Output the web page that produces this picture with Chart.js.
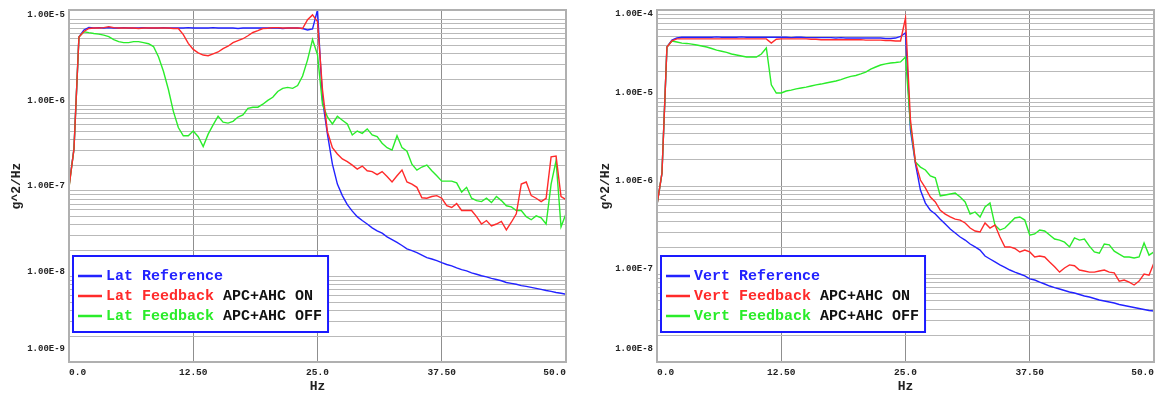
<!DOCTYPE html>
<html><head><meta charset="utf-8">
<script src="https://cdn.jsdelivr.net/npm/chart.js@4/dist/chart.umd.min.js"></script>
<style>html,body{margin:0;padding:0;background:#fff;}#wrap{display:flex;width:1158px;height:396px;}canvas{display:block;}</style>
</head><body><div id="wrap"><canvas id="lat" width="579" height="396"></canvas><canvas id="vert" width="579" height="396"></canvas></div>
<script>
const freq = [0,0.5,1,1.5,2,2.5,3,3.5,4,4.5,5,5.5,6,6.5,7,7.5,8,8.5,9,9.5,10,10.5,11,11.5,12,12.5,13,13.5,14,14.5,15,15.5,16,16.5,17,17.5,18,18.5,19,19.5,20,20.5,21,21.5,22,22.5,23,23.5,24,24.5,25,25.5,26,26.5,27,27.5,28,28.5,29,29.5,30,30.5,31,31.5,32,32.5,33,33.5,34,34.5,35,35.5,36,36.5,37,37.5,38,38.5,39,39.5,40,40.5,41,41.5,42,42.5,43,43.5,44,44.5,45,45.5,46,46.5,47,47.5,48,48.5,49,49.5,50];

const latRef = [1.15e-7,3.1e-7,6.3e-6,7.6e-6,8.1e-6,8.0e-6,8.1e-6,8.0e-6,8.1e-6,8.0e-6,
8.0e-6,8.1e-6,8.0e-6,8.0e-6,8.0e-6,8.1e-6,8.0e-6,8.0e-6,8.0e-6,8.1e-6,
8.0e-6,8.0e-6,8.0e-6,8.0e-6,8.1e-6,8.0e-6,8.0e-6,8.0e-6,8.0e-6,8.1e-6,
8.0e-6,8.0e-6,8.0e-6,8.0e-6,7.9e-6,8.0e-6,8.0e-6,8.0e-6,8.0e-6,8.0e-6,
8.0e-6,8.0e-6,8.0e-6,7.9e-6,8.0e-6,8.0e-6,8.0e-6,7.9e-6,7.6e-6,7.8e-6,
1.3e-5,1.17e-6,4.6e-7,2.05e-7,1.2e-7,8.8e-8,6.9e-8,5.8e-8,5.0e-8,4.5e-8,
4.1e-8,3.7e-8,3.4e-8,3.2e-8,2.9e-8,2.7e-8,2.5e-8,2.3e-8,2.1e-8,2.0e-8,
1.9e-8,1.78e-8,1.66e-8,1.6e-8,1.53e-8,1.45e-8,1.38e-8,1.33e-8,1.26e-8,1.2e-8,
1.16e-8,1.1e-8,1.06e-8,1.02e-8,9.9e-9,9.5e-9,9.2e-9,8.9e-9,8.5e-9,8.3e-9,
8.1e-9,7.8e-9,7.65e-9,7.45e-9,7.25e-9,7.06e-9,6.85e-9,6.7e-9,6.5e-9,6.35e-9,
6.2e-9];

const latFbOn = [1.1e-7,3.1e-7,6.3e-6,7.3e-6,7.9e-6,8.0e-6,8.0e-6,8.1e-6,8.3e-6,8.1e-6,
8.0e-6,8.0e-6,8.0e-6,8.0e-6,7.9e-6,8.0e-6,8.0e-6,8.0e-6,8.0e-6,8.0e-6,
8.0e-6,7.9e-6,7.9e-6,6.7e-6,5.3e-6,4.5e-6,4.1e-6,3.87e-6,3.8e-6,4.0e-6,
4.2e-6,4.6e-6,4.9e-6,5.4e-6,5.7e-6,6.0e-6,6.5e-6,7.1e-6,7.45e-6,7.9e-6,
7.95e-6,8.1e-6,8.1e-6,8.0e-6,8.0e-6,8.0e-6,8.0e-6,7.9e-6,1.0e-5,1.14e-5,
9.5e-6,1.53e-6,4.9e-7,3.2e-7,2.7e-7,2.36e-7,2.2e-7,2.0e-7,1.8e-7,1.95e-7,
1.72e-7,1.68e-7,1.55e-7,1.68e-7,1.47e-7,1.27e-7,1.5e-7,1.75e-7,1.27e-7,1.2e-7,
1.1e-7,8.3e-8,8.2e-8,8.6e-8,8.8e-8,8.2e-8,6.7e-8,6.4e-8,7.1e-8,5.9e-8,
5.9e-8,5.9e-8,5.0e-8,4.1e-8,4.5e-8,3.9e-8,4.1e-8,4.4e-8,3.5e-8,4.3e-8,
5.4e-8,1.2e-7,1.27e-7,8.8e-8,8.2e-8,7.5e-8,8.2e-8,2.5e-7,2.55e-7,8.6e-8,
7.9e-8];

const latFbOff = [1.1e-7,3.1e-7,6.3e-6,7.25e-6,7.06e-6,6.9e-6,6.8e-6,6.6e-6,6.34e-6,5.86e-6,
5.55e-6,5.4e-6,5.4e-6,5.55e-6,5.55e-6,5.4e-6,5.25e-6,4.86e-6,3.7e-6,2.5e-6,
1.53e-6,8.5e-7,5.5e-7,4.4e-7,4.4e-7,5.0e-7,4.3e-7,3.3e-7,4.6e-7,5.9e-7,
7.45e-7,6.35e-7,6.2e-7,6.5e-7,7.3e-7,7.7e-7,9.2e-7,9.5e-7,9.5e-7,1.03e-6,
1.14e-6,1.24e-6,1.45e-6,1.58e-6,1.62e-6,1.58e-6,1.7e-6,2.2e-6,3.4e-6,5.86e-6,
3.9e-6,1.03e-6,7.3e-7,6.05e-7,7.45e-7,6.7e-7,6.05e-7,4.5e-7,5.0e-7,4.7e-7,
5.3e-7,4.5e-7,4.3e-7,3.6e-7,3.2e-7,3.0e-7,4.4e-7,3.2e-7,2.9e-7,2.05e-7,
1.75e-7,1.9e-7,2.0e-7,1.72e-7,1.5e-7,1.3e-7,1.3e-7,1.3e-7,1.24e-7,9.7e-8,
1.1e-7,8.2e-8,7.7e-8,7.5e-8,8.2e-8,7.3e-8,8.6e-8,7.7e-8,6.7e-8,6.5e-8,
5.9e-8,5.9e-8,5.0e-8,4.6e-8,5.1e-8,4.85e-8,4.1e-8,1.2e-7,2.25e-7,3.8e-8,
5.4e-8];

const vertRef = [6.1e-7,1.4e-6,3.8e-5,4.56e-5,4.8e-5,4.9e-5,4.9e-5,4.9e-5,4.9e-5,4.9e-5,
4.9e-5,4.9e-5,4.95e-5,4.9e-5,4.9e-5,4.9e-5,4.9e-5,4.95e-5,4.9e-5,4.9e-5,
4.9e-5,4.9e-5,4.9e-5,4.9e-5,4.9e-5,4.9e-5,4.9e-5,4.85e-5,4.9e-5,4.9e-5,
4.85e-5,4.85e-5,4.85e-5,4.85e-5,4.85e-5,4.85e-5,4.8e-5,4.85e-5,4.8e-5,4.8e-5,
4.8e-5,4.8e-5,4.8e-5,4.8e-5,4.8e-5,4.8e-5,4.75e-5,4.75e-5,4.8e-5,5.0e-5,
5.5e-5,4.3e-6,1.8e-6,9.0e-7,6.4e-7,5.3e-7,4.8e-7,4.2e-7,3.7e-7,3.24e-7,
2.92e-7,2.63e-7,2.43e-7,2.19e-7,2.03e-7,1.87e-7,1.6e-7,1.48e-7,1.37e-7,1.27e-7,
1.19e-7,1.11e-7,1.05e-7,1.0e-7,9.5e-8,8.8e-8,8.55e-8,8.1e-8,7.7e-8,7.3e-8,
7.0e-8,6.76e-8,6.5e-8,6.24e-8,6.08e-8,5.85e-8,5.62e-8,5.48e-8,5.27e-8,5.07e-8,
4.93e-8,4.8e-8,4.68e-8,4.5e-8,4.38e-8,4.27e-8,4.16e-8,4.05e-8,3.95e-8,3.85e-8,
3.8e-8];

const vertFbOn = [6.1e-7,1.4e-6,3.8e-5,4.45e-5,4.7e-5,4.7e-5,4.7e-5,4.7e-5,4.7e-5,4.7e-5,
4.7e-5,4.7e-5,4.7e-5,4.7e-5,4.7e-5,4.7e-5,4.7e-5,4.7e-5,4.7e-5,4.7e-5,
4.7e-5,4.7e-5,4.7e-5,4.2e-5,4.65e-5,4.7e-5,4.7e-5,4.7e-5,4.7e-5,4.7e-5,
4.7e-5,4.65e-5,4.65e-5,4.6e-5,4.6e-5,4.6e-5,4.6e-5,4.6e-5,4.6e-5,4.6e-5,
4.6e-5,4.6e-5,4.55e-5,4.55e-5,4.55e-5,4.55e-5,4.5e-5,4.5e-5,4.45e-5,4.45e-5,
8.1e-5,5.6e-6,1.87e-6,1.17e-6,9.5e-7,7.5e-7,6.6e-7,5.3e-7,4.8e-7,4.45e-7,
4.2e-7,4.1e-7,3.8e-7,3.33e-7,3.08e-7,3.0e-7,3.8e-7,3.33e-7,3.6e-7,2.63e-7,
2.03e-7,2.03e-7,1.95e-7,1.78e-7,1.87e-7,1.78e-7,1.56e-7,1.6e-7,1.56e-7,1.37e-7,
1.21e-7,1.05e-7,1.17e-7,1.27e-7,1.24e-7,1.11e-7,1.08e-7,1.05e-7,1.05e-7,1.08e-7,
1.11e-7,1.05e-7,1.03e-7,8.3e-8,8.55e-8,8.1e-8,7.5e-8,8.3e-8,1.0e-7,9.7e-8,
1.34e-7];

const vertFbOff = [6.1e-7,1.4e-6,3.8e-5,4.45e-5,4.33e-5,4.2e-5,4.17e-5,4.1e-5,4.0e-5,3.9e-5,
3.8e-5,3.65e-5,3.5e-5,3.4e-5,3.3e-5,3.16e-5,3.08e-5,3.0e-5,2.92e-5,2.92e-5,
2.92e-5,3.16e-5,3.7e-5,1.41e-5,1.14e-5,1.14e-5,1.2e-5,1.23e-5,1.27e-5,1.3e-5,
1.33e-5,1.37e-5,1.41e-5,1.44e-5,1.48e-5,1.52e-5,1.56e-5,1.62e-5,1.69e-5,1.76e-5,
1.8e-5,1.88e-5,1.97e-5,2.13e-5,2.25e-5,2.37e-5,2.44e-5,2.5e-5,2.53e-5,2.57e-5,
2.92e-5,4.93e-6,1.87e-6,1.64e-6,1.52e-6,1.3e-6,1.24e-6,7.7e-7,7.9e-7,8.1e-7,
8.3e-7,7.5e-7,6.6e-7,4.8e-7,5.07e-7,4.45e-7,5.77e-7,6.4e-7,3.6e-7,3.16e-7,
3.33e-7,3.8e-7,4.33e-7,4.45e-7,4.1e-7,2.77e-7,2.85e-7,3.16e-7,3.08e-7,2.77e-7,
2.5e-7,2.43e-7,2.3e-7,2.03e-7,2.57e-7,2.43e-7,2.5e-7,2.07e-7,1.78e-7,1.72e-7,
2.19e-7,2.14e-7,1.82e-7,1.68e-7,1.56e-7,1.56e-7,1.52e-7,1.56e-7,2.25e-7,1.64e-7,
1.78e-7];

const xTickValues = [0, 12.5, 25, 37.5, 50];
const xTickLabels = ['0.0', '12.50', '25.0', '37.50', '50.0'];
const latDecades = [1e-9, 1e-8, 1e-7, 1e-6, 1e-5];
const latYLabels = ['1.00E-9', '1.00E-8', '1.00E-7', '1.00E-6', '1.00E-5'];
const vertDecades = [1e-8, 1e-7, 1e-6, 1e-5, 1e-4];
const vertYLabels = ['1.00E-8', '1.00E-7', '1.00E-6', '1.00E-5', '1.00E-4'];
const latNames = ['Lat Reference', 'Lat Feedback', 'Lat Feedback'];
const vertNames = ['Vert Reference', 'Vert Feedback', 'Vert Feedback'];
const suffixes = ['', ' APC+AHC ON', ' APC+AHC OFF'];
const yTitle = 'g^2/Hz';
const xTitle = 'Hz';

const COLORS = ['#2222ff', '#ff2a2a', '#2aec2a'];
const MONO = '"Liberation Mono", "DejaVu Sans Mono", monospace';

function buildChart(id, o) {
  const pts = arr => freq.map((f, i) => ({x: f, y: arr[i]}));
  const gridVals = [];
  o.decades.forEach(d => { for (let k = 1; k <= 9; k++) { const v = d * k; if (v <= o.yMax * 1.0001) gridVals.push(v); } });
  if (gridVals[gridVals.length - 1] < o.yMax * 0.999) gridVals.push(o.yMax);
  const decor = {
    id: 'decor' + id,
    afterDraw(chart) {
      const ctx = chart.ctx, a = chart.chartArea, ys = chart.scales.y;
      ctx.save();
      ctx.strokeStyle = '#b0b0b0'; ctx.lineWidth = 2;
      ctx.strokeRect(a.left, a.top, a.right - a.left, a.bottom - a.top);
      ctx.font = 'bold 9px ' + MONO;
      ctx.fillStyle = '#222'; ctx.textAlign = 'right'; ctx.textBaseline = 'middle';
      o.decades.forEach((v, i) => {
        const py = ys.getPixelForValue(v);
        const ly = Math.min(Math.max(py - 5, 14), 349);
        ctx.fillText(o.yLabels[i], a.left - 4, ly);
      });
      ctx.font = 'bold 13px ' + MONO;
      ctx.textAlign = 'center';
      ctx.fillText(xTitle, (a.left + a.right) / 2, 387);
      ctx.save();
      ctx.translate(o.titleX, 186); ctx.rotate(-Math.PI / 2);
      ctx.fillText(yTitle, 0, 0);
      ctx.restore();
      ctx.font = 'bold 15px ' + MONO;
      const bx = a.left + 4, by = 256, bh = 76;
      let maxW = 0;
      o.names.forEach((n, i) => { maxW = Math.max(maxW, ctx.measureText(n + suffixes[i]).width); });
      const bw = 33 + maxW + 6;
      ctx.fillStyle = '#fff'; ctx.fillRect(bx, by, bw, bh);
      ctx.strokeStyle = '#1a1aff'; ctx.lineWidth = 2;
      ctx.strokeRect(bx, by, bw, bh);
      ctx.textAlign = 'left'; ctx.textBaseline = 'middle';
      o.names.forEach((n, i) => {
        const ry = by + 20 + i * 20;
        ctx.strokeStyle = COLORS[i]; ctx.lineWidth = 2.5;
        ctx.beginPath(); ctx.moveTo(bx + 5, ry); ctx.lineTo(bx + 29, ry); ctx.stroke();
        ctx.fillStyle = COLORS[i];
        ctx.fillText(n, bx + 33, ry);
        if (suffixes[i]) {
          ctx.fillStyle = '#111';
          ctx.fillText(suffixes[i], bx + 33 + ctx.measureText(n).width, ry);
        }
      });
      ctx.restore();
    }
  };
  const orders = [3, 1, 2];
  return new Chart(document.getElementById(id), {
    type: 'line',
    data: {
      datasets: o.series.map((s, i) => ({
        label: o.names[i] + suffixes[i],
        data: pts(s),
        borderColor: COLORS[i],
        borderWidth: 1.4,
        pointRadius: 0,
        tension: 0,
        fill: false,
        order: orders[i]
      }))
    },
    options: {
      responsive: false, animation: false, devicePixelRatio: 1,
      layout: {padding: {left: 0, right: o.padRight, top: 10, bottom: 0}},
      plugins: {legend: {display: false}, tooltip: {enabled: false}},
      scales: {
        x: {
          type: 'linear', min: 0, max: 50,
          afterBuildTicks: s => { s.ticks = xTickValues.map(v => ({value: v})); },
          ticks: {callback: (v, i) => xTickLabels[i], align: 'inner', padding: 0, maxRotation: 0,
                  font: {family: MONO, size: 9.5, weight: 'bold'}, color: '#222'},
          grid: {color: '#8f8f8f', lineWidth: 1, drawTicks: true, tickLength: 5, tickColor: 'rgba(0,0,0,0)'},
          border: {display: false},
          afterFit: s => { s.height = 34; }
        },
        y: {
          type: 'logarithmic', min: o.yMin, max: o.yMax,
          afterBuildTicks: s => { s.ticks = gridVals.map(v => ({value: v})); },
          ticks: {display: false},
          grid: {color: '#b9b9b9', lineWidth: 1, drawTicks: false},
          border: {display: false},
          afterFit: s => { s.width = o.yWidth; }
        }
      }
    },
    plugins: [decor]
  });
}

buildChart('lat', {series: [latRef, latFbOn, latFbOff], names: latNames, decades: latDecades, yLabels: latYLabels,
  yMin: 1e-9, yMax: 1.3e-5, yWidth: 69, padRight: 13, titleX: 17});
buildChart('vert', {series: [vertRef, vertFbOn, vertFbOff], names: vertNames, decades: vertDecades, yLabels: vertYLabels,
  yMin: 1e-8, yMax: 1e-4, yWidth: 78, padRight: 4, titleX: 27});
</script>
</body></html>
